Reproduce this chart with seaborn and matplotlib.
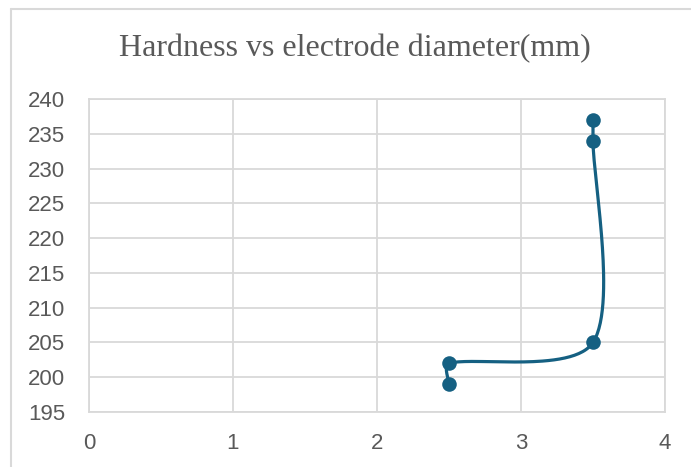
import numpy as np
import pandas as pd
import seaborn as sns
import matplotlib.pyplot as plt
from matplotlib.lines import Line2D

# datos
diametro = [2.5, 2.5, 3.5, 3.5, 3.5]
dureza = [199, 202, 205, 234, 237]
x_ticks = [0, 1, 2, 3, 4]
y_ticks = [195, 200, 205, 210, 215, 220, 225, 230, 235, 240]

color = '#156082'
gris = '#d9d9d9'
texto = '#595959'


def curva_suave(xs, ys, escala, n=60):
    # spline tipo Excel: Catmull-Rom, tangente recortada en segmentos cortos (en pixeles)
    p = np.column_stack([xs, ys]).astype(float) * escala
    p = np.vstack([p[0], p, p[-1]])
    out = []
    for i in range(1, len(p) - 2):
        p0, p1, p2, p3 = p[i - 1], p[i], p[i + 1], p[i + 2]
        d01 = np.linalg.norm(p1 - p0)
        d12 = np.linalg.norm(p2 - p1)
        d23 = np.linalg.norm(p3 - p2)
        f1 = min(0.5, d12 / (d01 + d12)) if d01 + d12 > 0 else 0
        f2 = min(0.5, d12 / (d12 + d23)) if d12 + d23 > 0 else 0
        c1 = p1 + (p2 - p0) * f1 / 3
        c2 = p2 - (p3 - p1) * f2 / 3
        t = np.linspace(0, 1, n)[:, None]
        seg = ((1 - t) ** 3) * p1 + 3 * ((1 - t) ** 2) * t * c1 + 3 * (1 - t) * t ** 2 * c2 + t ** 3 * p2
        out.append(seg)
    return np.vstack(out) / escala


sns.set_style('white')
plt.rcParams['font.family'] = ['Liberation Sans', 'DejaVu Sans']

fig = plt.figure(figsize=(6.91, 4.67), dpi=100)
ax = fig.add_axes([89 / 691, 1 - 412 / 467, 576 / 691, 313 / 467])

# pixeles por unidad en cada eje
escala = np.array([576 / 4, 313 / 45])
suave = curva_suave(diametro, dureza, escala)
df_curva = pd.DataFrame({'x': suave[:, 0], 'y': suave[:, 1]})
sns.lineplot(data=df_curva, x='x', y='y', sort=False, estimator=None, color=color,
             linewidth=2.3, ax=ax, zorder=3)
sns.scatterplot(x=diametro, y=dureza, color=color, s=110, edgecolor=color, linewidth=0,
                ax=ax, zorder=4)

ax.set_xlim(0, 4)
ax.set_ylim(195, 240)
ax.set_xticks(x_ticks)
ax.set_yticks(y_ticks)
ax.set_xlabel('')
ax.set_ylabel('')
ax.grid(True, color=gris, linewidth=1.3)
for s in ax.spines.values():
    s.set_color(gris)
    s.set_linewidth(1.3)
ax.tick_params(axis='both', length=0, labelsize=16, colors=texto)
ax.tick_params(axis='x', pad=15)
ax.tick_params(axis='y', pad=17)

fig.text(0.514, 1 - 49 / 467, 'Hardness vs electrode diameter(mm)', ha='center', va='center',
         fontsize=23, color=texto, family='Liberation Serif')

# borde del area del grafico
fig.add_artist(Line2D([11 / 691, 11 / 691], [0, 1 - 9 / 467], color=gris, linewidth=1.5))
fig.add_artist(Line2D([11 / 691, 1], [1 - 9 / 467, 1 - 9 / 467], color=gris, linewidth=1.5))

fig.savefig('out.png', dpi=100)
